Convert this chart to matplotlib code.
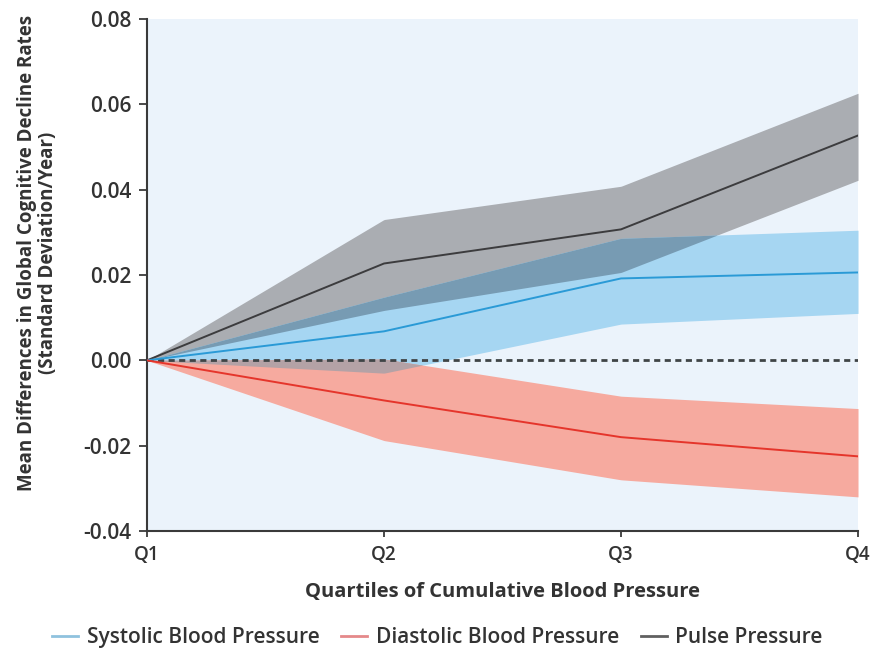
import numpy as np
import matplotlib.pyplot as plt
from matplotlib.lines import Line2D

quartiles = ['Q1', 'Q2', 'Q3', 'Q4']

# mean differences and 95% CI, SD/year
sbp = [0.0, 0.0068, 0.0192, 0.0206]
sbp_lo = [0.0, -0.003, 0.0085, 0.011]
sbp_hi = [0.0, 0.0148, 0.0286, 0.0305]

dbp = [0.0, -0.0094, -0.018, -0.0225]
dbp_lo = [0.0, -0.0188, -0.028, -0.032]
dbp_hi = [0.0, 0.0003, -0.0084, -0.0113]

pp = [0.0, 0.0227, 0.0307, 0.0527]
pp_lo = [0.0, 0.0117, 0.0206, 0.0422]
pp_hi = [0.0, 0.033, 0.0408, 0.0626]

x = np.arange(len(quartiles))
xf = np.linspace(0, len(quartiles) - 1, 600)


def band(lo, hi):
    return np.interp(xf, x, lo), np.interp(xf, x, hi)


fig = plt.figure(figsize=(8.75, 6.49), dpi=100)
ax = fig.add_axes([0.168, 0.1818, 0.8126, 0.7889])
ax.set_facecolor('#EBF3FB')

g_lo, g_hi = band(pp_lo, pp_hi)
b_lo, b_hi = band(sbp_lo, sbp_hi)
r_lo, r_hi = band(dbp_lo, dbp_hi)

ax.fill_between(xf, g_lo, g_hi, color='#AAADB2', lw=0)
ax.fill_between(xf, b_lo, b_hi, color='#A6D6F2', lw=0)
ax.fill_between(xf, r_lo, r_hi, color='#F6AA9F', lw=0)

# overlaps
lo = np.maximum(g_lo, b_lo)
hi = np.minimum(g_hi, b_hi)
ax.fill_between(xf, lo, hi, where=hi > lo, color='#779BB3', lw=0)
lo = np.maximum(r_lo, b_lo)
hi = np.minimum(r_hi, b_hi)
ax.fill_between(xf, lo, hi, where=hi > lo, color='#B4A2A6', lw=0)

ax.axhline(0, color='#3F4446', lw=2, ls=(0, (2.2, 1.6)), zorder=3)

ax.plot(x, pp, color='#3C3C3E', lw=1.4, zorder=4)
ax.plot(x, sbp, color='#2A9AD6', lw=1.4, zorder=4)
ax.plot(x, dbp, color='#E5352B', lw=1.4, zorder=4)

ax.set_xlim(0, 3)
ax.set_ylim(-0.04, 0.08)
ax.set_xticks(x)
ax.set_xticklabels(quartiles)
ax.set_yticks(np.arange(-0.04, 0.081, 0.02))
ax.set_yticklabels(['-0.04', '-0.02', '0.00', '0.02', '0.04', '0.06', '0.08'])

for s in ['top', 'right']:
    ax.spines[s].set_visible(False)
for s in ['left', 'bottom']:
    ax.spines[s].set_color('#3A3A3A')
    ax.spines[s].set_linewidth(1.5)

ax.tick_params(axis='y', length=6, width=1.3, color='#3A3A3A', pad=5,
               labelsize=15, labelcolor='#333333')
ax.tick_params(axis='x', length=4, width=1.3, color='#3A3A3A', pad=6,
               labelsize=13.5, labelcolor='#333333')
for lab in ax.get_xticklabels() + ax.get_yticklabels():
    lab.set_fontfamily('Open Sans')
    lab.set_fontweight('semibold')

ax.set_xlabel('Quartiles of Cumulative Blood Pressure', fontsize=14.5,
              fontweight='bold', family='Open Sans', color='#333333', labelpad=12)
ax.set_ylabel('Mean Differences in Global Cognitive Decline Rates\n(Standard Deviation/Year)',
              fontsize=13.5, fontweight='bold', family='Open Sans', color='#333333',
              linespacing=1.05)
ax.yaxis.set_label_coords(-0.125, 0.543)

handles = [Line2D([], [], color='#8FC2DE', lw=2),
           Line2D([], [], color='#E5898A', lw=2),
           Line2D([], [], color='#606060', lw=2)]
fig.legend(handles, ['Systolic Blood Pressure', 'Diastolic Blood Pressure', 'Pulse Pressure'],
           loc='lower center', bbox_to_anchor=(0.5, -0.028), ncol=3, frameon=False,
           handlelength=1.25, handletextpad=0.4, columnspacing=1.05,
           prop={'family': 'Open Sans', 'weight': 'semibold', 'size': 15},
           labelcolor='#333333')

fig.savefig('out.png', dpi=100)
